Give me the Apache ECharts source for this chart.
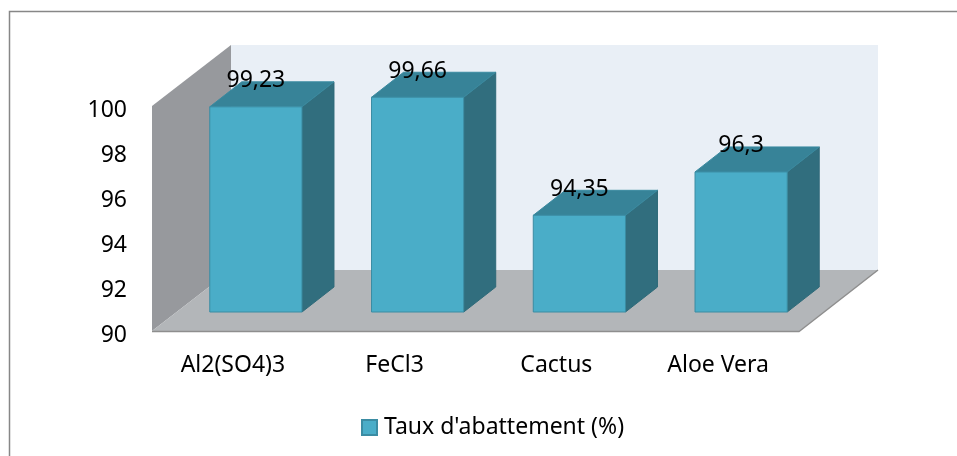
<!DOCTYPE html>
<html><head><meta charset="utf-8">
<script src="https://cdn.jsdelivr.net/npm/echarts@6/dist/echarts.min.js"></script>
<style>html,body{margin:0;padding:0;background:#fff}#c{width:957px;height:456px}</style>
</head><body><div id="c"></div>
<script>
const categories = ['Al2(SO4)3', 'FeCl3', 'Cactus', 'Aloe Vera'];
const values = [99.23, 99.66, 94.35, 96.3];
const seriesName = "Taux d'abattement (%)";
const yMin = 90, yMax = 100, yInterval = 2;

const FONT = 'Noto Sans';
const FS = 23;
const WALL_DX = 79, WALL_DY = -61;   // depth of the 3D box
const BAR_OX = 23, BAR_OY = -19;     // bar plane offset (mid depth)
const BAR_DX = 32, BAR_DY = -25;     // bar depth
const BAR_W = 0.57, PERSP = 0.988;

function fmt(v) { return String(v).replace('.', ','); }

function renderBackdrop(params, api) {
  const cs = params.coordSys;
  const x0 = cs.x, y0 = cs.y, x1 = cs.x + cs.width, y1 = cs.y + cs.height;
  const dx = WALL_DX, dy = WALL_DY;
  return {
    type: 'group', children: [
      { type: 'polygon', shape: { points: [[x0 + dx, y0 + dy], [x1 + dx, y0 + dy], [x1 + dx, y1 + dy], [x0 + dx, y1 + dy]] }, style: { fill: '#e9eff6' } },
      { type: 'polygon', shape: { points: [[x0, y0], [x0 + dx, y0 + dy], [x0 + dx, y1 + dy], [x0, y1]] }, style: { fill: '#97999d' } },
      { type: 'polygon', shape: { points: [[x0, y1], [x0 + dx, y1 + dy], [x1 + dx, y1 + dy], [x1, y1]] }, style: { fill: '#b3b6b9' } },
      { type: 'polyline', shape: { points: [[x0, y1 + 0.5], [x1, y1 + 0.5], [x1 + dx, y1 + dy]] }, style: { fill: null, stroke: '#8e8e8e', lineWidth: 1.5 } }
    ]
  };
}

function renderBar(params, api) {
  const idx = api.value(0), v = api.value(1);
  const top = api.coord([idx, v]);
  const base = api.coord([idx, yMin]);
  const bw = api.size([1, 0])[0];
  const w = bw * BAR_W;
  const cx = base[0] + BAR_OX;
  const xl = cx - w / 2, xr = cx + w / 2;
  const yb = base[1] + BAR_OY;
  const yt = base[1] + (top[1] - base[1]) * PERSP + BAR_OY;
  const dx = BAR_DX, dy = BAR_DY;
  return {
    type: 'group', children: [
      { type: 'polygon', shape: { points: [[xr, yt], [xr + dx, yt + dy], [xr + dx, yb + dy], [xr, yb]] }, style: { fill: '#316e7e', stroke: '#2f6a79', lineWidth: 1 } },
      { type: 'polygon', shape: { points: [[xl, yt], [xl + dx, yt + dy], [xr + dx, yt + dy], [xr, yt]] }, style: { fill: '#378398', stroke: '#3a8aa0', lineWidth: 1 } },
      { type: 'rect', shape: { x: xl, y: yt, width: w, height: yb - yt }, style: { fill: '#4aadc8', stroke: '#3b8ca3', lineWidth: 1 } },
      { type: 'text', z2: 20, x: cx, y: yt + dy - 1, style: { text: fmt(v), fontSize: FS, fontFamily: FONT, fill: '#000', align: 'center', verticalAlign: 'middle' } }
    ]
  };
}

const chart = echarts.init(document.getElementById('c'), null, { renderer: 'canvas' });
chart.setOption({
  animation: false,
  backgroundColor: '#fff',
  graphic: [{ type: 'rect', shape: { x: 9.5, y: 11.5, width: 1000, height: 600 }, style: { fill: null, stroke: '#878787', lineWidth: 1.5 }, silent: true, z: 0 }],
  grid: { left: 152, right: 158, top: 106, bottom: 125 },
  legend: {
    data: [seriesName], left: 356, top: 411, icon: 'rect', itemWidth: 15, itemHeight: 15, itemGap: 10,
    textStyle: { fontSize: FS, fontFamily: FONT, color: '#000', padding: [0, 0, 0, 2] }
  },
  xAxis: {
    type: 'category', data: categories,
    axisLine: { show: false }, axisTick: { show: false }, splitLine: { show: false },
    axisLabel: { fontSize: FS, fontFamily: FONT, color: '#000', margin: 23 }
  },
  yAxis: {
    type: 'value', min: yMin, max: yMax, interval: yInterval,
    axisLine: { show: false }, axisTick: { show: false }, splitLine: { show: false },
    axisLabel: {
      fontSize: FS, fontFamily: FONT, color: '#000', margin: 25,
      formatter: '{v|{value}}',
      rich: { v: { fontSize: FS, fontFamily: FONT, color: '#000', padding: [9, 0, 0, 0] } }
    }
  },
  series: [
    { type: 'custom', name: 'backdrop', z: 1, silent: true, renderItem: renderBackdrop, data: [[0, yMin]], encode: { x: 0, y: 1 } },
    {
      type: 'custom', name: seriesName, z: 2, renderItem: renderBar,
      itemStyle: { color: '#4aadc8', borderColor: '#3b8ca3', borderWidth: 1 },
      data: values.map((v, i) => [i, v]), encode: { x: 0, y: 1 }
    }
  ]
});
</script></body></html>
